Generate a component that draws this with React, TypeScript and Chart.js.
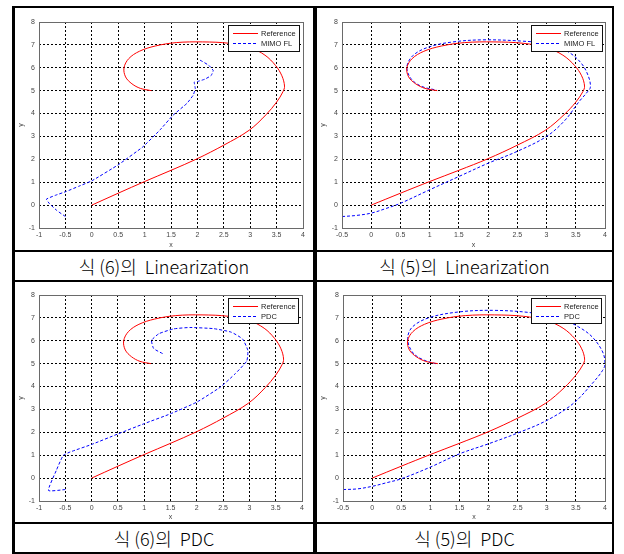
import { useEffect, useRef } from "react";
import { Chart, registerables } from "chart.js";
Chart.register(...registerables);

// Reference trajectory (same in all panels)
const refX = [0, 0.5, 1.0, 1.5, 2.0, 2.5, 2.98, 3.3, 3.5, 3.62, 3.65, 3.6, 3.48, 3.28, 3.0, 2.6, 2.1, 1.6, 1.2, 0.9, 0.7, 0.61, 0.64, 0.76, 0.92, 1.13];
const refY = [0, 0.52, 1.03, 1.52, 2.03, 2.62, 3.27, 3.95, 4.5, 4.95, 5.2, 5.65, 6.1, 6.55, 6.88, 7.07, 7.13, 7.1, 6.95, 6.72, 6.4, 6.0, 5.6, 5.3, 5.1, 5.0];

// 식 (6)의 Linearization : MIMO FL
const fl6X = [-0.5, -0.66, -0.8, -0.86, -0.7, -0.48, -0.25, 0, 0.5, 0.97, 1.29, 1.54, 1.8, 1.92, 1.96, 1.94, 2.0, 2.14, 2.26, 2.3, 2.22, 2.1, 2.02];
const fl6Y = [-0.5, -0.24, 0.06, 0.26, 0.42, 0.6, 0.82, 1.06, 1.76, 2.55, 3.28, 3.93, 4.44, 4.8, 5.09, 5.38, 5.4, 5.5, 5.66, 5.88, 6.1, 6.27, 6.37];

// 식 (5)의 Linearization : MIMO FL
const fl5X = [-0.5, -0.25, 0, 0.25, 0.5, 1.0, 1.5, 2.0, 2.5, 3.0, 3.32, 3.55, 3.7, 3.75, 3.72, 3.6, 3.38, 3.05, 2.55, 1.9, 1.4, 1.0, 0.72, 0.61, 0.68, 0.85, 1.12];
const fl5Y = [-0.5, -0.45, -0.35, -0.15, 0.08, 0.67, 1.25, 1.83, 2.35, 3.0, 3.72, 4.5, 4.95, 5.15, 5.6, 6.18, 6.68, 7.03, 7.17, 7.22, 7.13, 6.92, 6.55, 6.04, 5.53, 5.2, 5.02];

// 식 (6)의 PDC
const pdc6X = [-0.5, -0.82, -0.67, -0.54, -0.41, 0, 0.5, 1.0, 1.5, 2.0, 2.45, 2.73, 2.95, 2.97, 2.87, 2.65, 2.32, 1.87, 1.56, 1.28, 1.14, 1.18, 1.35];
const pdc6Y = [-0.5, -0.54, 0.34, 0.99, 1.14, 1.47, 1.93, 2.38, 2.81, 3.32, 3.98, 4.56, 5.12, 5.58, 6.08, 6.38, 6.53, 6.58, 6.52, 6.31, 6.02, 5.66, 5.44];

// 식 (5)의 PDC
const pdc5X = [-0.5, -0.25, 0, 0.25, 0.5, 1.0, 1.5, 2.0, 2.5, 3.0, 3.45, 3.78, 3.96, 4.0, 3.96, 3.78, 3.55, 3.24, 2.75, 2.07, 1.49, 0.98, 0.69, 0.61, 0.69, 0.86, 1.09];
const pdc5Y = [-0.5, -0.47, -0.36, -0.2, -0.03, 0.48, 1.06, 1.5, 1.97, 2.52, 3.25, 4.13, 4.71, 5.0, 5.51, 6.17, 6.6, 6.97, 7.22, 7.33, 7.26, 7.01, 6.6, 6.09, 5.51, 5.19, 5.0];

// Tick labels
const xTicksWide = [-1, -0.5, 0, 0.5, 1, 1.5, 2, 2.5, 3, 3.5, 4];
const xTicksNarrow = [-0.5, 0, 0.5, 1, 1.5, 2, 2.5, 3, 3.5, 4];
const yTicks = [-1, 0, 1, 2, 3, 4, 5, 6, 7, 8];

const refLabel = "Reference";
const flLabel = "MIMO FL";
const pdcLabel = "PDC";

const captions = ["식 (6)의  Linearization", "식 (5)의  Linearization", "식 (6)의  PDC", "식 (5)의  PDC"];

const RED = "#ff0000";
const BLUE = "#0000ff";
const BLUE_DASH = [3, 2];

const pts = (xs: number[], ys: number[]) => xs.map((x, i) => ({ x, y: ys[i] }));

type Panel = {
  left: number; top: number; width: number; height: number;
  yW: number; xH: number; padR: number; padT: number;
  xTicks: number[]; bx: number[]; by: number[]; bLabel: string; bTension: number;
  legW: number; legH: number; legDx: number;
};

const panels: Panel[] = [
  { left: 15, top: 8, width: 298, height: 242, yW: 24, xH: 22, padR: 10, padT: 14, xTicks: xTicksWide, bx: fl6X, by: fl6Y, bLabel: flLabel, bTension: 0.1, legW: 71, legH: 26, legDx: 4 },
  { left: 317, top: 8, width: 295, height: 242, yW: 25, xH: 22, padR: 7, padT: 14, xTicks: xTicksNarrow, bx: fl5X, by: fl5Y, bLabel: flLabel, bTension: 0.35, legW: 71, legH: 26, legDx: 3 },
  { left: 15, top: 282, width: 298, height: 240, yW: 24, xH: 21, padR: 11, padT: 13, xTicks: xTicksWide, bx: pdc6X, by: pdc6Y, bLabel: pdcLabel, bTension: 0.15, legW: 70, legH: 25, legDx: 4 },
  { left: 317, top: 282, width: 295, height: 240, yW: 26, xH: 21, padR: 7, padT: 13, xTicks: xTicksNarrow, bx: pdc5X, by: pdc5Y, bLabel: pdcLabel, bTension: 0.35, legW: 70, legH: 25, legDx: 4 },
];

const FONT = '"Liberation Sans", Arial, sans-serif';

function makeFrameLegend(p: Panel) {
  const items = [
    { label: refLabel, color: RED, dash: [25, 0] },
    { label: p.bLabel, color: BLUE, dash: BLUE_DASH },
  ];
  return {
    id: "frameLegend",
    afterDatasetsDraw(chart: any) {
      const { ctx, chartArea: a } = chart;
      ctx.save();
      ctx.setLineDash([]);
      ctx.lineWidth = 1;
      ctx.strokeStyle = "#6a6a6a";
      ctx.strokeRect(Math.round(a.left) + 0.5, Math.round(a.top) + 0.5, Math.round(a.right - a.left), Math.round(a.bottom - a.top));
      const bw = p.legW, bh = p.legH;
      const bx = Math.round(a.right - p.legDx - bw);
      const by = Math.round(a.top + 3);
      ctx.fillStyle = "#fff";
      ctx.fillRect(bx, by, bw, bh);
      ctx.strokeStyle = "#111";
      ctx.strokeRect(bx + 0.5, by + 0.5, bw, bh);
      items.forEach((it, i) => {
        const y = by + 8 + i * 10;
        ctx.fillStyle = it.color;
        const on = it.dash[0], off = it.dash[1];
        for (let x = bx + 5; x < bx + 30; x += on + off) {
          ctx.fillRect(x, y, Math.min(on, bx + 30 - x), 1);
        }
        ctx.fillStyle = "#222";
        ctx.font = `7.5px ${FONT}`;
        ctx.textBaseline = "middle";
        ctx.textAlign = "left";
        ctx.fillText(it.label, bx + 33, y + 0.5);
      });
      ctx.restore();
    },
  };
}

function PanelChart({ p }: { p: Panel }) {
  const ref = useRef<HTMLCanvasElement>(null);
  useEffect(() => {
    if (!ref.current) return;
    const chart = new Chart(ref.current, {
      type: "scatter",
      data: {
        datasets: [
          { label: refLabel, data: pts(refX, refY), showLine: true, borderColor: RED, borderWidth: 1, pointRadius: 0, tension: 0.35, fill: false },
          { label: p.bLabel, data: pts(p.bx, p.by), showLine: true, borderColor: BLUE, borderWidth: 1, borderDash: BLUE_DASH, pointRadius: 0, tension: p.bTension, fill: false },
        ],
      },
      options: {
        animation: false,
        responsive: false,
        devicePixelRatio: 1,
        events: [],
        layout: { padding: { left: 0, right: p.padR, top: p.padT, bottom: 0 } },
        plugins: {
          legend: { display: false },
          tooltip: { enabled: false },
        },
        scales: {
          x: {
            type: "linear",
            min: p.xTicks[0],
            max: p.xTicks[p.xTicks.length - 1],
            afterBuildTicks: (s: any) => { s.ticks = p.xTicks.map((v) => ({ value: v })); },
            afterFit: (s: any) => { s.height = p.xH; },
            grid: { color: "#000", lineWidth: 1, drawTicks: false },
            border: { display: false, dash: [2, 2] },
            ticks: { autoSkip: false, maxRotation: 0, padding: 3, color: "#444", font: { size: 7, family: FONT }, callback: (v: any) => String(v) },
            title: { display: true, text: "x", color: "#444", font: { size: 7, family: FONT }, padding: { top: 0, bottom: 1 } },
          },
          y: {
            type: "linear",
            min: yTicks[0],
            max: yTicks[yTicks.length - 1],
            afterBuildTicks: (s: any) => { s.ticks = yTicks.map((v) => ({ value: v })); },
            afterFit: (s: any) => { s.width = p.yW; },
            grid: { color: "#000", lineWidth: 1, drawTicks: false },
            border: { display: false, dash: [2, 2] },
            ticks: { autoSkip: false, padding: 4, color: "#444", font: { size: 7, family: FONT }, callback: (v: any) => String(v) },
            title: { display: true, text: "y", color: "#444", font: { size: 7, family: FONT }, padding: { top: 2, bottom: 0 } },
          },
        },
      },
      plugins: [makeFrameLegend(p)],
    } as any);
    return () => chart.destroy();
  }, [p]);
  return (
    <canvas
      ref={ref}
      width={p.width}
      height={p.height}
      style={{ position: "absolute", left: p.left, top: p.top, width: p.width, height: p.height }}
    />
  );
}

const line = (l: number, t: number, w: number, h: number) => (
  <div style={{ position: "absolute", left: l, top: t, width: w, height: h, background: "#000" }} />
);

export default function App() {
  const capCells = [
    { l: 15, t: 252, w: 298, h: 28 },
    { l: 317, t: 252, w: 295, h: 28 },
    { l: 15, t: 524, w: 298, h: 28 },
    { l: 317, t: 524, w: 295, h: 28 },
  ];
  return (
    <div style={{ position: "absolute", left: 0, top: 0, width: 624, height: 554, background: "#fff", overflow: "hidden" }}>
      {panels.map((p, i) => <PanelChart key={i} p={p} />)}
      {capCells.map((c, i) => (
        <div
          key={"c" + i}
          style={{
            position: "absolute", left: c.l, top: c.t, width: c.w, height: c.h,
            display: "flex", alignItems: "center", justifyContent: "center",
            fontFamily: '"Noto Sans CJK KR", sans-serif', fontSize: 18, fontWeight: 300, color: "#000", whiteSpace: "pre",
          }}
        >
          {captions[i]}
        </div>
      ))}
      {line(12, 6, 602, 2)}
      {line(12, 6, 3, 548)}
      {line(612, 6, 2, 548)}
      {line(12, 552, 602, 2)}
      {line(313, 6, 4, 548)}
      {line(12, 250, 602, 2)}
      {line(12, 280, 602, 2)}
      {line(12, 522, 602, 2)}
    </div>
  );
}
